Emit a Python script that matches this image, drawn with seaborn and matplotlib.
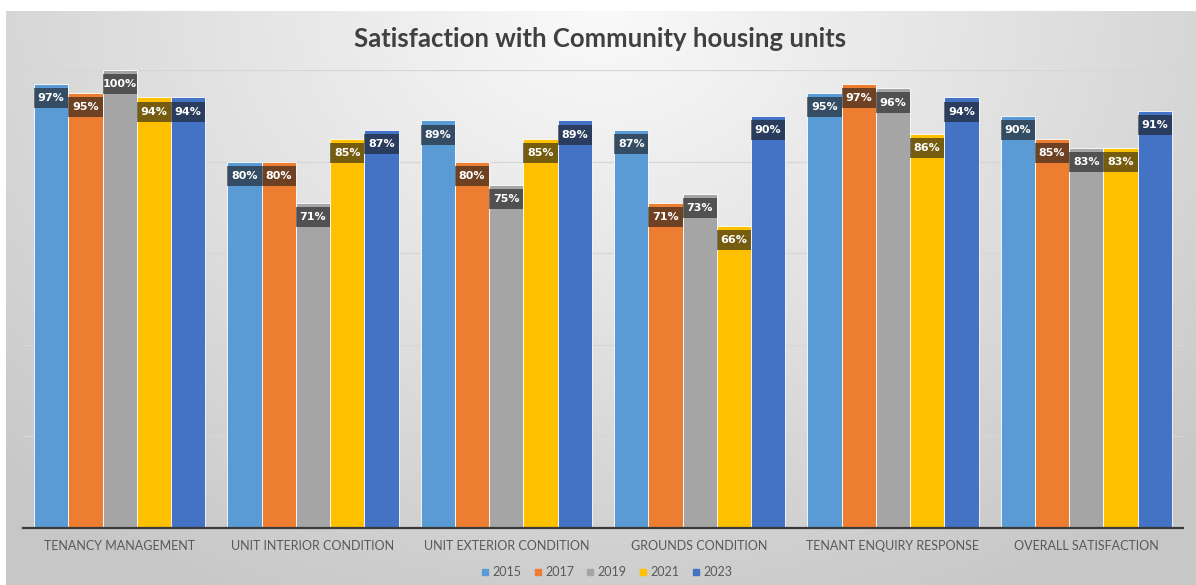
import numpy as np
import pandas as pd
import matplotlib
matplotlib.use("Agg")
import matplotlib.pyplot as plt
from matplotlib.patches import Rectangle
from matplotlib.lines import Line2D
import seaborn as sns

categories = ["TENANCY MANAGEMENT", "UNIT INTERIOR CONDITION", "UNIT EXTERIOR CONDITION",
              "GROUNDS CONDITION", "TENANT ENQUIRY RESPONSE", "OVERALL SATISFACTION"]
years = ["2015", "2017", "2019", "2021", "2023"]
v2015 = [97, 80, 89, 87, 95, 90]
v2017 = [95, 80, 80, 71, 97, 85]
v2019 = [100, 71, 75, 73, 96, 83]
v2021 = [94, 85, 85, 66, 86, 83]
v2023 = [94, 87, 89, 90, 94, 91]
colors = ["#5B9BD5", "#ED7D31", "#A5A5A5", "#FFC000", "#4472C4"]
title = "Satisfaction with Community housing units"

series = [v2015, v2017, v2019, v2021, v2023]
rows = []
for y, vals in zip(years, series):
    for c, v in zip(categories, vals):
        rows.append({"category": c, "year": y, "value": v})
df = pd.DataFrame(rows)

sns.set_style("white")
plt.rcParams["font.family"] = ["Lato", "DejaVu Sans"]

W, H = 1196, 585
fig = plt.figure(figsize=(W / 100, H / 100), dpi=100)
fig.patch.set_facecolor("white")

# background gradient panel
bg = fig.add_axes([6 / W, 0, 1 - 6 / W, 1 - 11 / H], zorder=-10)
nx, ny = 400, 200
xx, yy = np.meshgrid(np.linspace(0, 1, nx), np.linspace(0, 1, ny))
d = np.sqrt(((xx - 0.5) / 0.62) ** 2 + (yy / 1.0) ** 2)
g = 250 - 44 * np.clip(d, 0, 1.15)
img = np.dstack([g, g, g]) / 255.0
bg.imshow(img, aspect="auto", extent=[0, 1, 1, 0])
bg.axis("off")

ax = fig.add_axes([23 / W, 1 - 528 / H, (1183 - 23) / W, (528 - 70) / H])
ax.set_facecolor("none")

sns.barplot(data=df, x="category", y="value", hue="year", hue_order=years,
            order=categories, palette=colors, width=0.885, gap=0,
            edgecolor="white", linewidth=0.6, saturation=1, legend=False, ax=ax)

ax.set_ylim(0, 100)
ax.set_yticks([20, 40, 60, 80, 100])
ax.set_yticklabels([])
ax.yaxis.grid(True, color="#d6d6d6", linewidth=0.9)
ax.set_axisbelow(True)
ax.tick_params(axis="y", length=0)
ax.tick_params(axis="x", length=0, pad=9, labelsize=9, labelcolor="#595959")
ax.set_xlabel("")
ax.set_ylabel("")
for s in ["top", "left", "right"]:
    ax.spines[s].set_visible(False)
ax.spines["bottom"].set_color("#3a3a3a")
ax.spines["bottom"].set_linewidth(1.6)

# data labels: dark translucent boxes just inside the bar top
for p in ax.patches:
    h = p.get_height()
    if h <= 0:
        continue
    x0, w = p.get_x(), p.get_width()
    top = h - 0.9
    bh = 4.4
    ax.add_patch(Rectangle((x0, top - bh), w, bh, facecolor="#1a1a1a", alpha=0.6,
                           edgecolor="none", zorder=3))
    ax.text(x0 + w / 2, top - bh / 2, f"{h:.0f}%", ha="center", va="center",
            color="white", fontsize=8, fontweight="bold", family="DejaVu Sans", zorder=4)

fig.text(600 / W, 1 - 39 / H, title, ha="center", va="center", fontsize=18.5,
         fontweight="bold", color="#404040")

handles = [Line2D([], [], marker="s", linestyle="none", markersize=5,
                  markerfacecolor=c, markeredgecolor=c) for c in colors]
fig.legend(handles, years, loc="center", bbox_to_anchor=(606 / W, 1 - 572 / H),
           ncol=5, frameon=False, fontsize=9, labelcolor="#595959",
           handlelength=0.8, handletextpad=0.2, columnspacing=0.9)

fig.savefig("out.png", dpi=100)
